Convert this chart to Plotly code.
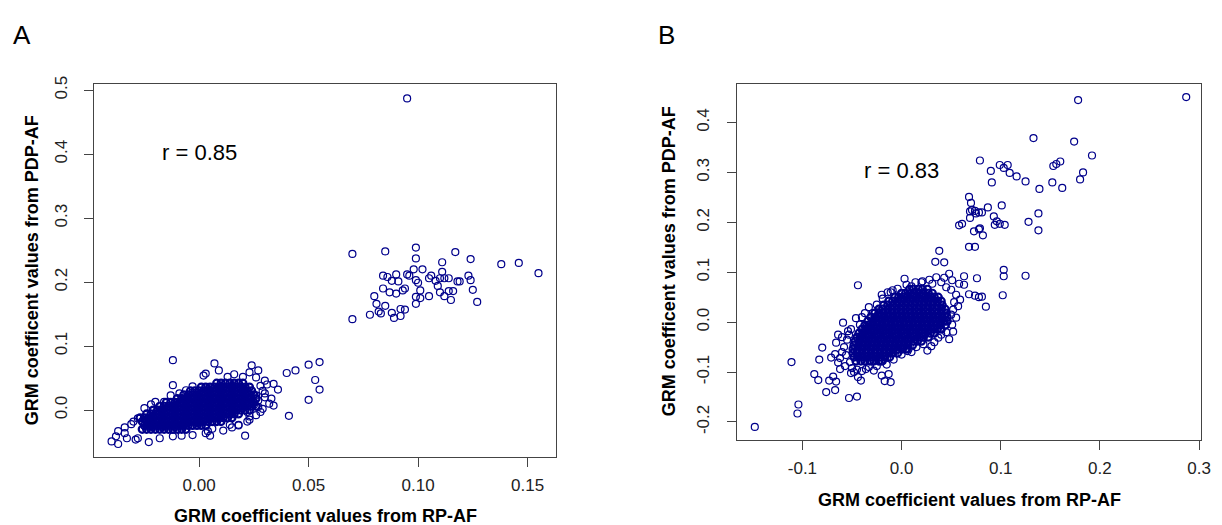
import plotly.graph_objects as go

# ---- panel A: GRM from RP-AF (x) vs PDP-AF (y) ----
# isolated points (x, y)
a_high = [(0.095, 0.487), (0.070, 0.244), (0.085, 0.248), (0.099, 0.254), (0.099, 0.237),
          (0.117, 0.247), (0.124, 0.236), (0.111, 0.231), (0.138, 0.228), (0.146, 0.230),
          (0.155, 0.214), (0.102, 0.220), (0.098, 0.220), (0.095, 0.212), (0.090, 0.212),
          (0.084, 0.210), (0.086, 0.208), (0.088, 0.202), (0.091, 0.201), (0.099, 0.203),
          (0.100, 0.199), (0.105, 0.206), (0.106, 0.210), (0.108, 0.202), (0.111, 0.216),
          (0.110, 0.206), (0.112, 0.206), (0.114, 0.206), (0.118, 0.201), (0.123, 0.210),
          (0.124, 0.203), (0.109, 0.194), (0.110, 0.184), (0.114, 0.186), (0.112, 0.178),
          (0.115, 0.172), (0.125, 0.188), (0.127, 0.169), (0.105, 0.178), (0.101, 0.187),
          (0.099, 0.177), (0.101, 0.175), (0.099, 0.166), (0.094, 0.190), (0.093, 0.187),
          (0.090, 0.182), (0.087, 0.184), (0.084, 0.190), (0.080, 0.178), (0.081, 0.166),
          (0.085, 0.163), (0.082, 0.154), (0.083, 0.151), (0.078, 0.149), (0.088, 0.152),
          (0.089, 0.144), (0.092, 0.158), (0.092, 0.147), (0.094, 0.157), (0.070, 0.142),
          (0.096, 0.210), (0.119, 0.201), (0.116, 0.186)]
a_mid = [(0.050, 0.071), (0.055, 0.075), (0.044, 0.062), (0.040, 0.058), (0.053, 0.047),
         (0.055, 0.032), (0.050, 0.016), (0.041, -0.009), (0.034, 0.007), (0.036, 0.032),
         (0.034, 0.041), (0.030, 0.046), (0.033, 0.018), (0.030, 0.026), (0.032, 0.010),
         (0.027, 0.005), (0.028, -0.003), (0.023, -0.015), (0.021, -0.040), (0.015, -0.027),
         (0.018, -0.023)]
a_edge = [(-0.012, 0.078), (0.007, 0.073), (-0.012, 0.039), (0.024, 0.070), (0.027, 0.062),
          (0.023, 0.059), (0.002, 0.054), (0.003, 0.057), (0.009, 0.062), (0.013, 0.052),
          (0.016, 0.056), (0.020, 0.052), (0.026, 0.051), (-0.003, 0.037), (-0.006, 0.031),
          (-0.009, 0.026), (-0.013, 0.023), (-0.016, 0.013), (-0.020, 0.013), (-0.022, 0.009),
          (-0.025, 0.003), (-0.028, -0.013), (-0.030, -0.018), (-0.031, -0.022), (-0.034, -0.027),
          (-0.037, -0.033), (-0.038, -0.041), (-0.040, -0.049), (-0.037, -0.053), (-0.033, -0.044),
          (-0.029, -0.046), (-0.023, -0.050), (-0.018, -0.044), (-0.012, -0.041), (-0.008, -0.040),
          (-0.003, -0.039), (0.003, -0.036), (0.005, -0.040), (0.006, -0.029), (0.014, -0.023),
          (0.018, -0.024), (0.022, -0.018), (0.023, -0.010), (0.022, -0.003), (0.025, 0.008),
          (0.026, 0.023), (0.028, 0.038), (0.011, -0.032), (-0.034, -0.036), (-0.028, -0.044),
          (0.004, -0.033), (0.029, 0.030), (0.031, 0.040), (0.027, 0.015), (0.029, 0.002),
          (0.026, -0.008), (0.024, 0.030), (0.030, 0.020)]
# dense core, read row by row
a_core_y = [-0.030, -0.024, -0.018, -0.012, -0.006, 0.000, 0.006, 0.012, 0.018, 0.024, 0.030, 0.036, 0.042]
a_core_x = [
    [-0.026, -0.024, -0.022, -0.020, -0.018, -0.016, -0.014, -0.012, -0.010, -0.008, -0.006],
    [-0.025, -0.023, -0.021, -0.019, -0.017, -0.015, -0.013, -0.011, -0.009, -0.007, -0.005, -0.003, -0.001, 0.001, 0.003],
    [-0.026, -0.024, -0.022, -0.020, -0.018, -0.016, -0.014, -0.012, -0.010, -0.008, -0.006, -0.004, -0.002, 0.000, 0.002,
     0.004, 0.006, 0.008, 0.010],
    [-0.027, -0.025, -0.023, -0.021, -0.019, -0.017, -0.015, -0.013, -0.011, -0.009, -0.007, -0.005, -0.003, -0.001, 0.001,
     0.003, 0.005, 0.007, 0.009, 0.011, 0.013, 0.015],
    [-0.024, -0.022, -0.020, -0.018, -0.016, -0.014, -0.012, -0.010, -0.008, -0.006, -0.004, -0.002, 0.000, 0.002, 0.004,
     0.006, 0.008, 0.010, 0.012, 0.014, 0.016, 0.018],
    [-0.021, -0.019, -0.017, -0.015, -0.013, -0.011, -0.009, -0.007, -0.005, -0.003, -0.001, 0.001, 0.003, 0.005, 0.007,
     0.009, 0.011, 0.013, 0.015, 0.017, 0.019, 0.021, 0.023],
    [-0.018, -0.016, -0.014, -0.012, -0.010, -0.008, -0.006, -0.004, -0.002, 0.000, 0.002, 0.004, 0.006, 0.008, 0.010,
     0.012, 0.014, 0.016, 0.018, 0.020, 0.022, 0.024, 0.026],
    [-0.015, -0.013, -0.011, -0.009, -0.007, -0.005, -0.003, -0.001, 0.001, 0.003, 0.005, 0.007, 0.009, 0.011, 0.013,
     0.015, 0.017, 0.019, 0.021, 0.023, 0.025],
    [-0.010, -0.008, -0.006, -0.004, -0.002, 0.000, 0.002, 0.004, 0.006, 0.008, 0.010, 0.012, 0.014, 0.016, 0.018,
     0.020, 0.022, 0.024, 0.026],
    [-0.007, -0.005, -0.003, -0.001, 0.001, 0.003, 0.005, 0.007, 0.009, 0.011, 0.013, 0.015, 0.017, 0.019, 0.021,
     0.023, 0.025],
    [-0.004, -0.002, 0.000, 0.002, 0.004, 0.006, 0.008, 0.010, 0.012, 0.014, 0.016, 0.018, 0.020, 0.022, 0.024],
    [0.001, 0.003, 0.005, 0.007, 0.009, 0.011, 0.013, 0.015, 0.017, 0.019, 0.021, 0.023],
    [0.008, 0.010, 0.012, 0.014, 0.016, 0.018, 0.020],
]

# ---- panel B ----
b_high = [(0.287, 0.451), (0.178, 0.445), (0.133, 0.369), (0.174, 0.362), (0.192, 0.334),
          (0.079, 0.324), (0.160, 0.322), (0.156, 0.317), (0.153, 0.313), (0.099, 0.315),
          (0.107, 0.315), (0.103, 0.309), (0.090, 0.303), (0.109, 0.299), (0.116, 0.292),
          (0.183, 0.300), (0.125, 0.282), (0.152, 0.280), (0.091, 0.280), (0.180, 0.286),
          (0.139, 0.267), (0.162, 0.269)]
b_mid = [(0.068, 0.251), (0.070, 0.239), (0.101, 0.234), (0.087, 0.230), (0.071, 0.225),
         (0.075, 0.218), (0.069, 0.209), (0.078, 0.220), (0.081, 0.220), (0.138, 0.218),
         (0.093, 0.212), (0.074, 0.223), (0.096, 0.202), (0.099, 0.197), (0.094, 0.195),
         (0.104, 0.195), (0.069, 0.222), (0.061, 0.197), (0.058, 0.194), (0.079, 0.188),
         (0.128, 0.201), (0.073, 0.182), (0.078, 0.186), (0.082, 0.174), (0.138, 0.184),
         (0.068, 0.151), (0.074, 0.151), (0.038, 0.143), (0.034, 0.121), (0.043, 0.120),
         (0.103, 0.105), (0.103, 0.092), (0.125, 0.093), (0.076, 0.088), (0.102, 0.054),
         (0.085, 0.031), (0.078, 0.050), (0.074, 0.053), (-0.044, 0.074), (0.063, 0.092),
         (0.063, 0.075), (0.068, 0.056), (0.081, 0.051), (0.048, 0.097), (0.051, 0.084),
         (0.058, 0.077), (0.043, 0.089)]
b_edge = [(-0.148, -0.210), (-0.105, -0.183), (-0.104, -0.165), (-0.111, -0.080), (-0.080, -0.051),
          (-0.083, -0.075), (-0.088, -0.104), (-0.084, -0.116), (-0.076, -0.140), (-0.067, -0.136),
          (-0.066, -0.119), (-0.073, -0.117), (-0.069, -0.109), (-0.053, -0.152), (-0.045, -0.149),
          (-0.044, -0.110), (-0.041, -0.117), (-0.020, -0.107), (-0.017, -0.118), (-0.011, -0.120),
          (-0.013, -0.104), (-0.028, -0.097), (-0.051, -0.102), (-0.062, -0.094), (-0.071, -0.071),
          (-0.067, -0.064), (-0.064, -0.081), (-0.066, -0.041), (-0.064, -0.025), (-0.059, -0.001),
          (-0.054, -0.018), (-0.051, -0.014), (-0.042, -0.005), (-0.037, 0.018), (-0.029, 0.018),
          (-0.019, 0.047), (-0.011, 0.060), (-0.004, 0.067), (0.003, 0.087), (0.014, 0.080),
          (0.006, -0.058), (-0.001, -0.051), (-0.019, -0.078), (-0.036, -0.094), (0.055, 0.009),
          (0.048, -0.034), (0.037, -0.031), (0.052, -0.019), (0.057, 0.032), (0.059, 0.045),
          (0.055, 0.055), (0.026, -0.057), (0.022, -0.044), (0.007, -0.054), (-0.005, -0.057),
          (-0.055, -0.035), (-0.058, -0.050), (-0.056, -0.066), (-0.052, -0.080), (-0.057, -0.088),
          (-0.050, -0.092), (-0.045, -0.095), (-0.060, -0.060), (-0.062, -0.072), (-0.053, -0.025),
          (-0.048, -0.100), (-0.040, -0.098), (-0.033, -0.090), (-0.025, -0.088), (-0.015, -0.085),
          (-0.008, -0.075), (-0.060, -0.030), (-0.046, 0.008), (-0.040, 0.010), (-0.033, 0.030),
          (-0.025, 0.035), (-0.020, 0.055), (-0.014, 0.060), (0.005, 0.075), (0.010, 0.072),
          (0.020, 0.080), (0.028, 0.085), (0.035, 0.090), (0.040, 0.080), (0.045, 0.070),
          (0.050, 0.065), (0.053, 0.040), (0.052, 0.025), (0.050, 0.015), (0.051, -0.005),
          (0.045, -0.020), (0.040, -0.025), (0.033, -0.040), (0.030, -0.048), (0.015, -0.050),
          (0.010, -0.060), (0.000, -0.065), (-0.009, 0.064), (0.021, 0.082), (0.031, 0.077)]
b_core_y = [-0.078, -0.070, -0.062, -0.054, -0.046, -0.038, -0.030, -0.022, -0.014, -0.006,
            0.002, 0.010, 0.018, 0.026, 0.034, 0.042, 0.050, 0.058, 0.066]
b_core_x = [
    [-0.046, -0.041, -0.037, -0.032, -0.028, -0.023, -0.020],
    [-0.048, -0.044, -0.039, -0.035, -0.030, -0.026, -0.021, -0.017, -0.012],
    [-0.049, -0.045, -0.040, -0.036, -0.031, -0.027, -0.022, -0.018, -0.013, -0.009, -0.004],
    [-0.049, -0.044, -0.040, -0.035, -0.031, -0.026, -0.022, -0.017, -0.013, -0.008, -0.004, 0.001, 0.005],
    [-0.048, -0.043, -0.039, -0.034, -0.030, -0.025, -0.021, -0.016, -0.012, -0.007, -0.003, 0.002, 0.006, 0.011],
    [-0.047, -0.042, -0.038, -0.033, -0.029, -0.024, -0.020, -0.015, -0.011, -0.006, -0.002, 0.003, 0.007, 0.012,
     0.016, 0.020],
    [-0.045, -0.041, -0.036, -0.032, -0.027, -0.023, -0.018, -0.014, -0.009, -0.005, 0.000, 0.004, 0.009, 0.013,
     0.018, 0.022, 0.027],
    [-0.043, -0.039, -0.034, -0.030, -0.025, -0.021, -0.016, -0.012, -0.007, -0.003, 0.002, 0.006, 0.011, 0.015,
     0.020, 0.024, 0.029, 0.033],
    [-0.040, -0.036, -0.031, -0.027, -0.022, -0.018, -0.013, -0.009, -0.004, 0.000, 0.005, 0.009, 0.014, 0.018,
     0.023, 0.027, 0.032, 0.036, 0.040],
    [-0.037, -0.033, -0.028, -0.024, -0.019, -0.015, -0.010, -0.006, -0.001, 0.003, 0.008, 0.012, 0.017, 0.021,
     0.026, 0.030, 0.035, 0.039, 0.044],
    [-0.034, -0.029, -0.025, -0.020, -0.016, -0.011, -0.007, -0.002, 0.002, 0.007, 0.011, 0.016, 0.020, 0.025,
     0.029, 0.034, 0.038, 0.043, 0.046],
    [-0.031, -0.026, -0.022, -0.017, -0.013, -0.008, -0.004, 0.001, 0.005, 0.010, 0.014, 0.019, 0.023, 0.028,
     0.032, 0.037, 0.041, 0.046],
    [-0.027, -0.023, -0.018, -0.014, -0.009, -0.005, 0.000, 0.004, 0.009, 0.013, 0.018, 0.022, 0.027, 0.031,
     0.036, 0.040, 0.045],
    [-0.023, -0.019, -0.014, -0.010, -0.005, -0.001, 0.004, 0.008, 0.013, 0.017, 0.022, 0.026, 0.031, 0.035,
     0.040, 0.044],
    [-0.018, -0.014, -0.009, -0.005, 0.000, 0.004, 0.009, 0.013, 0.018, 0.022, 0.027, 0.031, 0.036, 0.041],
    [-0.013, -0.009, -0.004, 0.000, 0.005, 0.009, 0.014, 0.018, 0.023, 0.027, 0.032, 0.036, 0.040],
    [-0.007, -0.003, 0.002, 0.006, 0.011, 0.015, 0.020, 0.024, 0.029, 0.033, 0.037],
    [0.000, 0.004, 0.009, 0.013, 0.018, 0.022, 0.027, 0.031],
    [0.008, 0.012, 0.017, 0.021, 0.026],
]

a_xticks = [0.0, 0.05, 0.10, 0.15]
a_xlabels = ["0.00", "0.05", "0.10", "0.15"]
a_yticks = [0.0, 0.1, 0.2, 0.3, 0.4, 0.5]
a_ylabels = ["0.0", "0.1", "0.2", "0.3", "0.4", "0.5"]
b_xticks = [-0.1, 0.0, 0.1, 0.2, 0.3]
b_xlabels = ["-0.1", "0.0", "0.1", "0.2", "0.3"]
b_yticks = [-0.2, -0.1, 0.0, 0.1, 0.2, 0.3, 0.4]
b_ylabels = ["-0.2", "-0.1", "0.0", "0.1", "0.2", "0.3", "0.4"]

x_title = "GRM coefficient values from RP-AF"
y_title = "GRM coefficent values from PDP-AF"


def flatten(groups):
    xs, ys = [], []
    for g in groups:
        xs += [p[0] for p in g]
        ys += [p[1] for p in g]
    return xs, ys


def core_points(core_y, core_x):
    xs, ys = [], []
    for yv, row in zip(core_y, core_x):
        xs += row
        ys += [yv] * len(row)
    return xs, ys


# the page body has an 8px margin, so the figure is drawn 8px in from the window corner
OFF = 8
W, H = 1222 - OFF, 525 - OFF


def px(X):
    return (X - OFF) / W


def py(Y):
    return 1 - (Y - OFF) / H


navy = "#00008B"
mk = dict(symbol="circle-open", size=7, color=navy, line=dict(width=1.2, color=navy))
# the overplotted core is drawn with heavier rings so it reads as solid, like the original
mk_core = dict(symbol="circle-open", size=7, color=navy, line=dict(width=2.2, color=navy))

fig = go.Figure()
for groups, core_y, core_x, xa, ya in [([a_high, a_mid, a_edge], a_core_y, a_core_x, "x", "y"),
                                       ([b_high, b_mid, b_edge], b_core_y, b_core_x, "x2", "y2")]:
    cx, cy = core_points(core_y, core_x)
    fig.add_trace(go.Scatter(x=cx, y=cy, mode="markers", marker=mk_core, xaxis=xa, yaxis=ya))
    sx, sy = flatten(groups)
    fig.add_trace(go.Scatter(x=sx, y=sy, mode="markers", marker=mk, xaxis=xa, yaxis=ya))

axis_style = dict(showline=True, mirror=True, linecolor="#444", linewidth=1,
                  ticks="outside", ticklen=9, tickwidth=1, tickcolor="#444",
                  showgrid=False, zeroline=False, tickfont=dict(size=17, color="#222"))

fig.update_layout(
    width=W, height=H,
    margin=dict(l=0, r=0, t=0, b=0),
    paper_bgcolor="white", plot_bgcolor="white",
    showlegend=False,
    font=dict(family="Liberation Sans, Arial, sans-serif", color="black"),
    xaxis=dict(domain=[px(95), px(561)], range=[-0.0479, 0.1632], anchor="y",
               tickvals=a_xticks, ticktext=a_xlabels, ticklabelstandoff=4, **axis_style),
    yaxis=dict(domain=[py(456), py(77.3)], range=[-0.0734, 0.5092], anchor="x",
               tickvals=a_yticks, ticktext=a_ylabels, tickangle=-90, ticklabelstandoff=10, **axis_style),
    xaxis2=dict(domain=[px(743.5), px(1210.5)], range=[-0.1655, 0.3015], anchor="y2",
                tickvals=b_xticks, ticktext=b_xlabels, ticklabelstandoff=4, **axis_style),
    yaxis2=dict(domain=[py(438.5), py(76.7)], range=[-0.2358, 0.478], anchor="x2",
                tickvals=b_yticks, ticktext=b_ylabels, tickangle=-90, ticklabelstandoff=12, **axis_style),
)

title_font = dict(size=18, color="black", family="Liberation Sans, Arial, sans-serif")
for tx, ty, ang, txt in [(328, 516, 0, x_title), (977, 500, 0, x_title),
                         (31.7, 266.7, -90, y_title), (674, 257.6, -90, y_title)]:
    fig.add_annotation(text="<b>" + txt + "</b>", xref="paper", yref="paper", x=px(tx), y=py(ty),
                       showarrow=False, font=title_font, textangle=ang, xanchor="center", yanchor="middle")

# correlation labels
fig.add_annotation(text="r = 0.85", x=0.0, y=0.40, xref="x", yref="y", showarrow=False, yshift=2,
                   xanchor="center", yanchor="middle", font=dict(size=22, color="black"))
fig.add_annotation(text="r = 0.83", x=0.0, y=0.30, xref="x2", yref="y2", showarrow=False, yshift=2,
                   xanchor="center", yanchor="middle", font=dict(size=22, color="black"))

# panel letters
for lx, letter in [(22, "A"), (671.5, "B")]:
    fig.add_annotation(text=letter, xref="paper", yref="paper", x=px(lx), y=py(27.6), showarrow=False,
                       xanchor="center", yanchor="middle", font=dict(size=26, color="black"))

fig.write_html("out.html")
